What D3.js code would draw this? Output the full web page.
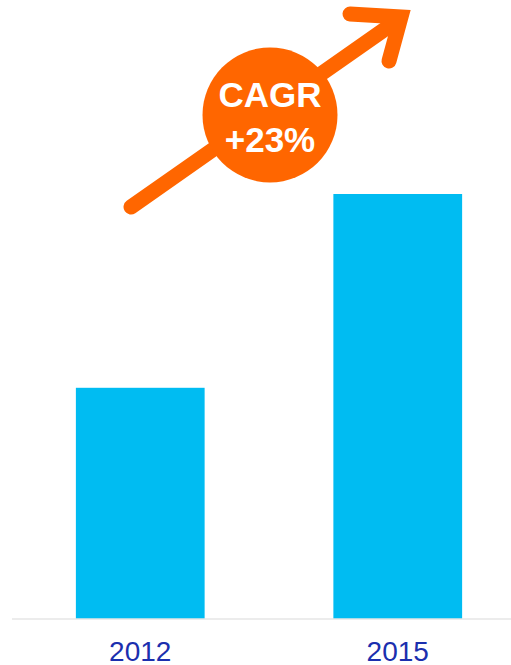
<!DOCTYPE html>
<html>
<head>
<meta charset="utf-8">
<script src="https://cdn.jsdelivr.net/npm/d3@7"></script>
<style>
  html, body { margin: 0; padding: 0; background: #fff; }
  svg { display: block; }
</style>
</head>
<body>
<svg id="chart" width="511" height="665"></svg>
<script>
// Revenue index by year
const years = ["2012", "2015"];
const values = [100, 184];
const cagrLines = ["CAGR", "+23%"];

const svg = d3.select("#chart");
const baseY = 618.5;

const x = d3.scaleBand()
  .domain(years)
  .range([11.5, 526.5])
  .paddingInner(0.5)
  .paddingOuter(0.25);

const y = d3.scaleLinear()
  .domain([0, 200])
  .range([baseY, baseY - 200 * (424.5 / 184)]);

// Bars
svg.selectAll("rect.bar")
  .data(values)
  .join("rect")
  .attr("class", "bar")
  .attr("x", (d, i) => x(years[i]))
  .attr("width", x.bandwidth())
  .attr("y", d => y(d))
  .attr("height", d => y(0) - y(d))
  .attr("fill", "#00BCF2");

// Baseline axis
const axis = d3.axisBottom(x).tickSize(0).tickPadding(0);
const gx = svg.append("g")
  .attr("transform", `translate(0,${baseY})`)
  .call(axis);
gx.select(".domain").remove();
gx.append("line")
  .attr("x1", 12).attr("x2", 511)
  .attr("y1", 0.5).attr("y2", 0.5)
  .attr("stroke", "#d9d9d9")
  .attr("stroke-width", 1);
gx.selectAll(".tick text")
  .attr("dy", null)
  .attr("y", 42)
  .attr("font-family", "'Liberation Sans', Arial, sans-serif")
  .attr("font-size", 28)
  .attr("fill", "#1b2fae");

// Growth arrow
const orange = "#FF6600";
const arrow = svg.append("g")
  .attr("stroke", orange)
  .attr("stroke-width", 15)
  .attr("stroke-linecap", "round")
  .attr("fill", "none");
arrow.append("line")
  .attr("x1", 131).attr("y1", 207)
  .attr("x2", 398).attr("y2", 20);
arrow.append("path")
  .attr("stroke-linejoin", "miter")
  .attr("d", "M350,14 L401,17 L389,61");

// CAGR badge
svg.append("circle")
  .attr("cx", 270).attr("cy", 115).attr("r", 67.5)
  .attr("fill", orange);

svg.selectAll("text.cagr")
  .data(cagrLines)
  .join("text")
  .attr("class", "cagr")
  .attr("x", 270)
  .attr("y", (d, i) => 107 + i * 45)
  .attr("text-anchor", "middle")
  .attr("font-family", "'Liberation Sans', Arial, sans-serif")
  .attr("font-weight", "bold")
  .attr("font-size", 35)
  .attr("fill", "#fff")
  .text(d => d);
</script>
</body>
</html>
